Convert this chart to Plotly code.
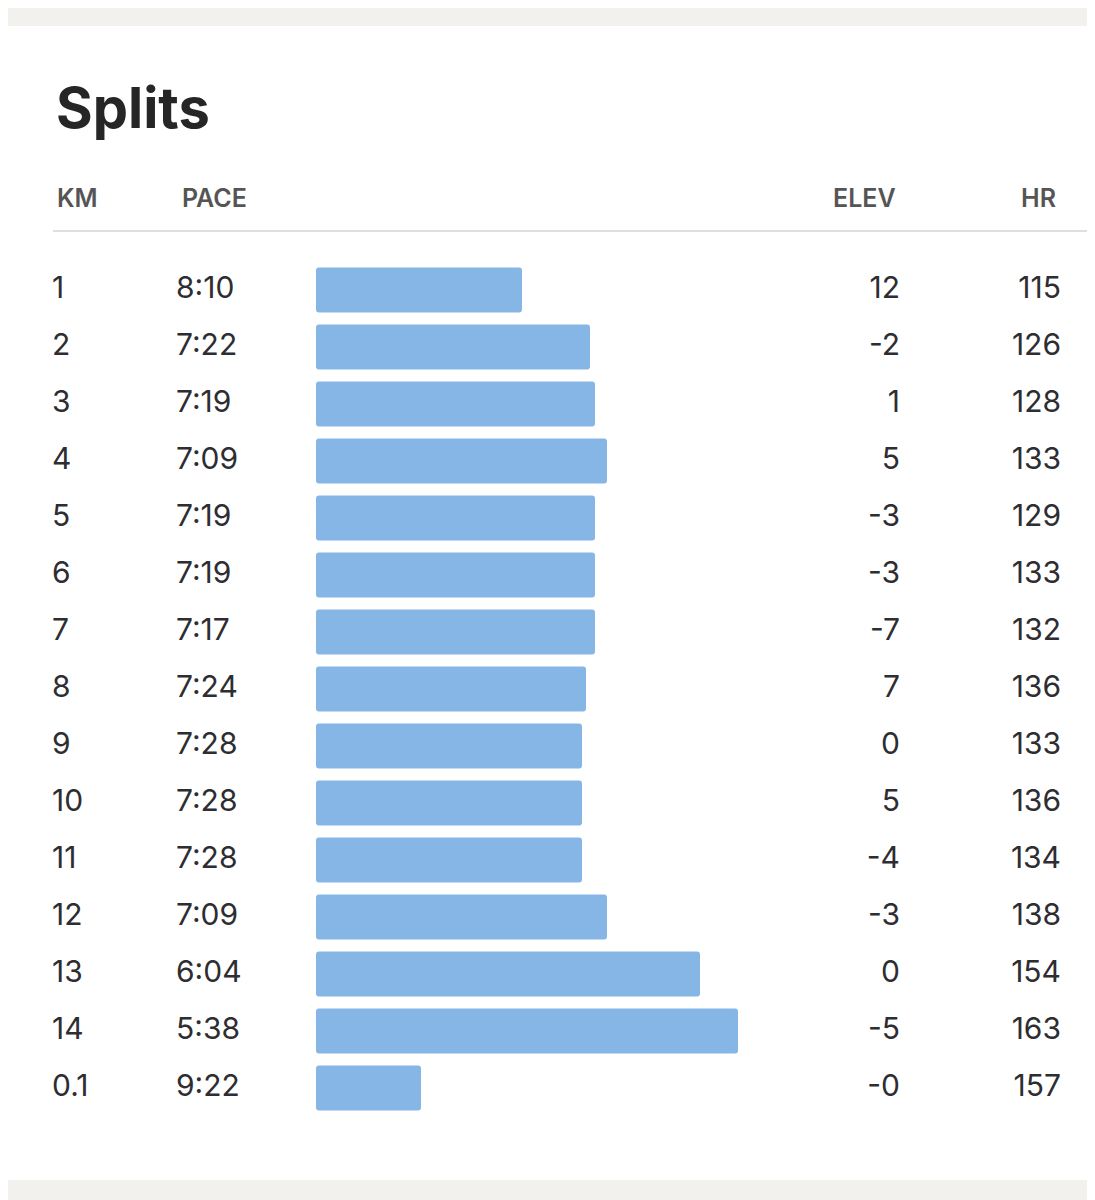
import plotly.graph_objects as go

km = ["1", "2", "3", "4", "5", "6", "7", "8", "9", "10", "11", "12", "13", "14", "0.1"]
pace = ["8:10", "7:22", "7:19", "7:09", "7:19", "7:19", "7:17", "7:24", "7:28", "7:28",
        "7:28", "7:09", "6:04", "5:38", "9:22"]
# bar length as shown (relative speed scale)
bar_len = [206, 274, 279, 291, 279, 279, 279, 270, 266, 266, 266, 291, 384, 422, 105]
elev = ["12", "-2", "1", "5", "-3", "-3", "-7", "7", "0", "5", "-4", "-3", "0", "-5", "-0"]
hr = ["115", "126", "128", "133", "129", "133", "132", "136", "133", "136",
      "134", "138", "154", "163", "157"]

W, H = 1095, 1200
rows = list(range(len(km)))
y0, dy = 282, 57
font = "Inter, Noto Sans, sans-serif"
txt_col = "#2d2d32"

fig = go.Figure()
fig.add_trace(go.Bar(
    x=bar_len, y=rows, base=308, orientation="h", width=0.79,
    marker=dict(color="#85b6e6", cornerradius=3, line=dict(width=0)),
    hoverinfo="skip"))

def col(x, vals, pos):
    fig.add_trace(go.Scatter(
        x=[x] * len(vals), y=rows, text=vals, mode="text", textposition=pos,
        textfont=dict(family=font, size=30, color=txt_col), hoverinfo="skip"))

col(44, km, "middle right")
col(168, pace, "middle right")
col(892, elev, "middle left")
col(1053, hr, "middle left")

heads = [("KM", 47, "left"), ("PACE", 172, "left"), ("ELEV", 890, "right"), ("HR", 1050, "right")]
for t, x, a in heads:
    fig.add_annotation(x=x / W, y=1 - 190 / H, xref="paper", yref="paper", text=t,
                       showarrow=False, xanchor=a, yanchor="middle",
                       font=dict(family=font, size=25, color="#555555", weight=600))
fig.add_annotation(x=46 / W, y=1 - 100 / H, xref="paper", yref="paper", text="<b>Splits</b>",
                   showarrow=False, xanchor="left", yanchor="middle",
                   font=dict(family=font, size=56, color="#262626"))

fig.add_shape(type="rect", xref="paper", yref="paper", x0=0, x1=1, y0=1 - 18 / H, y1=1,
              fillcolor="#f3f1ed", line_width=0, layer="below")
fig.add_shape(type="rect", xref="paper", yref="paper", x0=0, x1=1, y0=0, y1=1 - 1172 / H,
              fillcolor="#f3f1ed", line_width=0, layer="below")
fig.add_shape(type="line", xref="paper", yref="paper", x0=45 / W, x1=1, y0=1 - 223 / H,
              y1=1 - 223 / H, line=dict(color="#d4d4d4", width=1.5))

fig.update_layout(
    width=W, height=H, margin=dict(l=0, r=0, t=0, b=0),
    paper_bgcolor="white", plot_bgcolor="rgba(0,0,0,0)", showlegend=False,
    xaxis=dict(range=[0, W], visible=False, fixedrange=True),
    yaxis=dict(range=[(H - y0) / dy, -y0 / dy], visible=False, fixedrange=True),
)
fig.write_html("out.html")
